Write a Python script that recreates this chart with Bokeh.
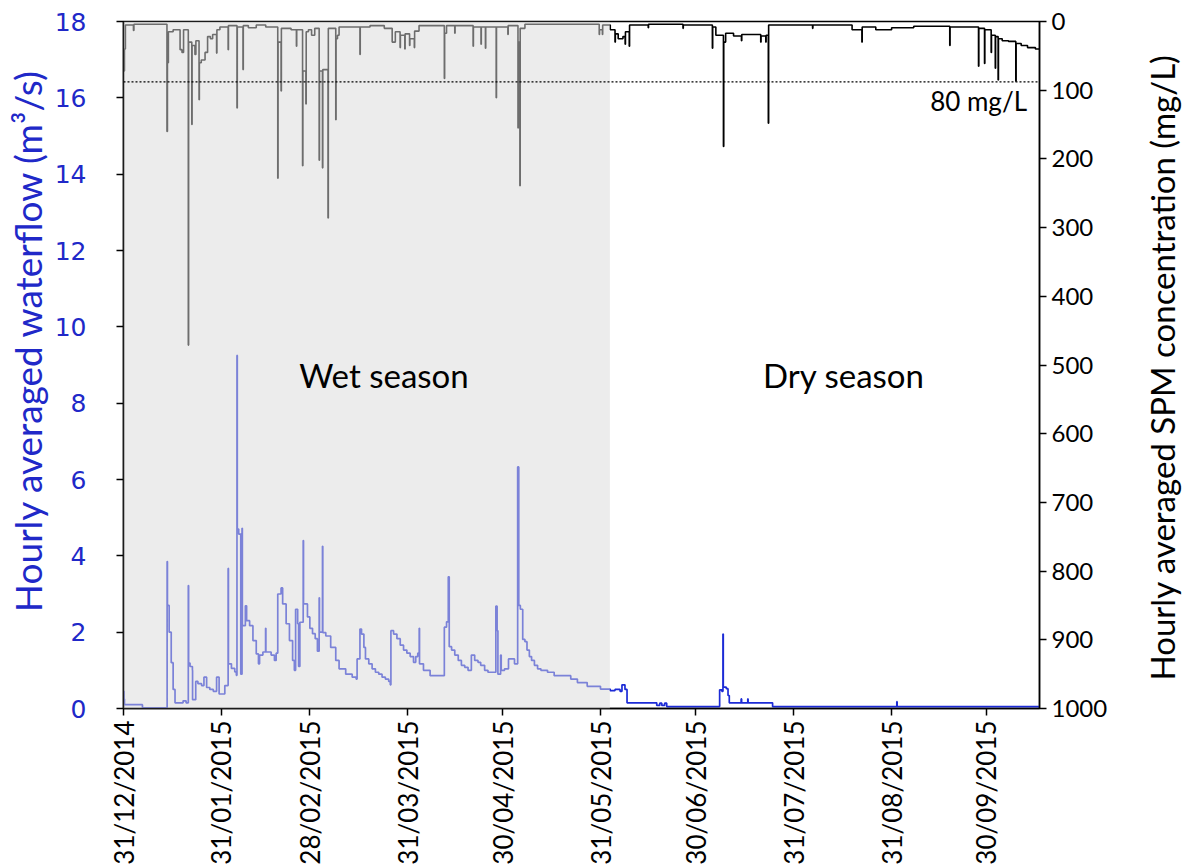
import math
import pandas as pd
from bokeh.plotting import figure
from bokeh.layouts import row
from bokeh.models import (Range1d, LinearAxis, FixedTicker, DatetimeTickFormatter,
                          BoxAnnotation, Span, Label)
from bokeh.embed import file_html
from bokeh.resources import INLINE

# ---------------- data ----------------
start_date = "2014-12-31"
end_date = "2015-10-16 19:00"
wet_end = "2015-06-02 21:00"

# hourly averaged waterflow (m3/s), days since 31/12/2014
flow_day = [0.0, 0.15, 0.3, 6.0, 13.8, 13.9, 14.45, 15.1, 15.7, 16.3, 18.85, 19.8,
            20.5, 20.6, 21.05, 21.8, 21.85, 22.85, 23.55, 24.7, 25.45, 26.3, 27.3, 28.4,
            29.45, 30.25, 31.5, 32.05, 33.1, 33.2, 34.15, 35.2, 35.7, 35.9, 36.0, 36.45,
            37.1, 37.5, 37.6, 38.55, 38.95, 39.9, 40.95, 42.0, 42.7, 43.05, 44.1, 44.95,
            45.05, 46.7, 47.75, 48.3, 48.8, 49.85, 50.35, 51.45, 52.5, 53.5, 54.05, 54.45,
            55.1, 55.4, 55.8, 56.85, 56.95, 57.5, 58.2, 58.95, 59.8, 60.65, 61.35, 61.9,
            62.0, 62.95, 63.05, 64.0, 65.55, 67.15, 68.2, 70.3, 72.35, 73.6, 73.9, 74.8,
            75.3, 76.05, 76.55, 77.6, 78.65, 79.7, 80.75, 81.8, 82.85, 83.9, 84.4, 84.6,
            85.45, 86.5, 87.55, 88.6, 89.65, 90.7, 91.75, 92.45, 93.1, 93.55, 93.65, 94.9,
            97.0, 101.5, 102.2, 102.75, 103.05, 103.8, 104.8, 105.9, 106.9, 107.95, 109.0,
            110.05, 111.1, 112.15, 113.0, 114.25, 115.3, 117.8, 118.2, 118.45, 119.3, 119.5,
            120.55, 121.8, 123.15, 123.7, 124.7, 125.05, 125.55, 126.3, 127.0, 127.65,
            128.4, 129.1, 130.0, 131.0, 132.05, 134.15, 136.25, 141.5, 143.6, 146.7, 150.9,
            153.95, 155.5, 157.1, 157.7, 158.65, 159.3, 168.7, 169.65, 170.3, 171.2, 171.85,
            188.6, 189.3, 189.65, 189.75, 190.7, 191.25, 191.65, 195.4, 195.55, 197.5,
            197.6, 205.35, 244.65, 244.75, 289.8]
flow_value = [0.45, 0.25, 0.1, 0.02, 3.85, 2.7, 2.0, 1.2, 0.5, 0.15, 0.2, 0.15,
              3.22, 1.19, 1.1, 1.0, 0.23, 0.71, 0.65, 0.6, 0.82, 0.55, 0.5, 0.45,
              0.82, 0.38, 0.38, 0.6, 3.67, 1.17, 1.05, 0.96, 0.87, 9.25, 4.7, 4.57,
              0.9, 4.72, 2.17, 2.69, 2.3, 2.17, 1.78, 1.43, 1.17, 1.4, 1.48, 2.1,
              1.48, 1.4, 1.26, 1.45, 3.0, 3.16, 2.74, 2.22, 1.78, 1.26, 1.0, 2.6,
              2.22, 1.1, 2.26, 4.4, 2.74, 2.74, 2.4, 2.1, 1.96, 1.83, 1.5, 2.9,
              2.0, 4.25, 1.99, 1.9, 1.6, 1.26, 1.04, 0.9, 0.82, 0.77, 1.3, 2.08,
              1.95, 1.6, 1.3, 1.17, 1.04, 0.95, 0.9, 0.82, 0.77, 0.71, 0.62, 2.04,
              1.95, 1.83, 1.66, 1.53, 1.45, 1.36, 1.21, 1.36, 1.45, 2.1, 1.17, 1.0,
              0.86, 2.13, 2.27, 3.45, 1.62, 1.53, 1.4, 1.26, 1.13, 1.08, 1.0,
              1.4, 1.26, 1.21, 1.13, 1.0, 0.95, 2.68, 2.04, 0.9, 1.4, 1.0,
              1.04, 1.3, 1.3, 1.17, 6.33, 2.7, 2.6, 1.81, 1.75, 1.53,
              1.36, 1.26, 1.13, 1.04, 1.0, 0.95, 0.86, 0.77, 0.68, 0.58, 0.51,
              0.47, 0.5, 0.45, 0.62, 0.5, 0.15, 0.08, 0.14, 0.08, 0.14, 0.05,
              0.49, 0.45, 1.95, 0.56, 0.52, 0.34, 0.15, 0.25, 0.15, 0.25,
              0.15, 0.05, 0.18, 0.05, 0.05]

# hourly averaged SPM concentration (mg/L), days since 31/12/2014
spm_day = [0.0, 0.3, 0.6, 3.15, 3.3, 13.75, 13.9, 14.2, 15.7, 17.9, 18.5, 19.0,
           20.5, 20.6, 21.6, 21.7, 22.6, 22.9, 23.9, 24.0, 24.6, 25.8, 26.6, 27.5,
           28.2, 29.45, 29.55, 30.5, 33.1, 33.2, 35.9, 36.0, 37.8, 37.9, 39.5, 42.0,
           45.0, 48.8, 48.9, 49.85, 49.95, 53.0, 54.7, 54.8, 56.65, 56.75, 57.7, 57.8,
           58.5, 59.5, 60.5, 61.9, 62.0, 62.95, 63.05, 64.7, 64.8, 67.15, 67.25, 67.7,
           68.2, 74.8, 74.9, 78.0, 82.5, 85.0, 86.0, 87.5, 87.6, 89.0, 89.1, 90.5,
           90.6, 92.0, 92.1, 93.5, 101.5, 101.6, 102.2, 104.8, 104.9, 110.6, 110.7,
           113.1, 113.2, 114.5, 114.6, 117.9, 118.0, 121.6, 121.7, 124.8, 124.9, 125.4,
           125.5, 127.0, 150.5, 150.6, 151.5, 151.6, 154.0, 155.5, 155.6, 156.5, 158.0,
           158.7, 158.8, 160.0, 160.1, 166.0, 166.1, 177.0, 177.1, 186.3, 186.4, 187.4,
           189.8, 189.9, 190.5, 193.0, 195.5, 195.6, 201.6, 201.7, 203.2, 203.3, 204.0,
           204.1, 218.0, 218.1, 230.5, 233.6, 233.7, 238.0, 243.0, 250.0, 261.4, 261.5,
           270.5, 270.6, 272.4, 272.5, 274.5, 274.6, 275.8, 275.9, 276.7, 276.8, 278.0,
           280.0, 282.3, 282.4, 284.0, 286.0, 288.5, 289.8]
spm_value = [72, 40, 5, 13, 4, 160, 60, 15, 12, 41, 45, 12,
             471, 30, 150, 35, 48, 28, 114, 60, 56, 45, 22, 25,
             19, 46, 12, 8, 41, 6, 126, 8, 70, 6, 9, 5,
             8, 228, 30, 101, 10, 12, 36, 12, 210, 72, 120, 15,
             12, 20, 10, 202, 72, 213, 70, 286, 10, 143, 25, 20,
             8, 48, 8, 6, 10, 30, 15, 38, 20, 40, 18, 35,
             25, 38, 14, 6, 83, 17, 6, 17, 6, 36, 8,
             33, 8, 39, 8, 111, 8, 19, 6, 155, 30, 239,
             10, 4, 19, 12, 19, 5, 12, 30, 18, 25, 22,
             33, 15, 36, 5, 9, 4, 10, 5, 39, 8, 20,
             182, 30, 17, 21, 28, 19, 30, 21, 30, 20, 148,
             5, 10, 5, 12, 30, 8, 12, 9, 7, 35, 8,
             65, 10, 61, 12, 45, 20, 68, 22, 85, 25, 28,
             29, 87, 32, 35, 38, 40, 40]

threshold_mgL = 88
tick_dates = ["2014-12-31", "2015-01-31", "2015-02-28", "2015-03-31", "2015-04-30",
              "2015-05-31", "2015-06-30", "2015-07-31", "2015-08-31", "2015-09-30"]
flow_ticks = [0, 2, 4, 6, 8, 10, 12, 14, 16, 18]
spm_ticks = [0, 100, 200, 300, 400, 500, 600, 700, 800, 900, 1000]

flow_title = "Hourly averaged waterflow (m³/s)"
spm_title = "Hourly averaged SPM concentration (mg/L)"

# ---------------- helpers ----------------
t0 = pd.Timestamp(start_date)
def to_dt(days):
    return [t0 + pd.Timedelta(days=float(d)) for d in days]
def ms(ts):
    return pd.Timestamp(ts).value / 1e6

CAL = "Lato"
BLUE = "#2028c8"
H = 868

def title_strip(w, text, cx, cy, size, color):
    """narrow figure holding one upward-reading axis title"""
    f = figure(width=w, height=H, x_range=Range1d(0, w), y_range=Range1d(0, H),
               output_backend="svg", toolbar_location=None,
               x_axis_location=None, y_axis_location=None,
               min_border=0, min_border_left=0, min_border_right=0,
               min_border_top=0, min_border_bottom=0)
    f.outline_line_color = None
    f.xgrid.visible = False
    f.ygrid.visible = False
    f.background_fill_color = "white"
    f.border_fill_color = "white"
    f.add_layout(Label(x=cx, y=H - cy, angle=math.pi / 2, text=text, text_font=CAL,
                       text_font_size=size, text_color=color,
                       text_align="center", text_baseline="middle"))
    return f

# ---------------- main figure ----------------
p = figure(width=1060, height=H, x_axis_type="datetime",
           x_range=Range1d(ms(start_date), ms(end_date)),
           y_range=Range1d(0, 18),
           output_backend="svg", toolbar_location=None,
           min_border_left=73, min_border_right=65,
           min_border_top=21, min_border_bottom=160)
p.extra_y_ranges = {"spm": Range1d(1000, 0)}
p.background_fill_color = "white"
p.border_fill_color = "white"
p.outline_line_color = "black"
p.outline_line_width = 1.5
p.xgrid.visible = False
p.ygrid.visible = False

p.step(to_dt(flow_day), flow_value, mode="after", line_color="#1c2bd6", line_width=1.7)
p.step(to_dt(spm_day), spm_value, mode="after", y_range_name="spm",
       line_color="black", line_width=1.6)

# x axis
xa = p.xaxis[0]
xa.ticker = FixedTicker(ticks=[ms(d) for d in tick_dates])
fmt = "%d/%m/%Y"
xa.formatter = DatetimeTickFormatter(microseconds=fmt, milliseconds=fmt, seconds=fmt,
                                     minsec=fmt, minutes=fmt, hourmin=fmt, hours=fmt,
                                     days=fmt, months=fmt, years=fmt)
xa.major_label_orientation = math.pi / 2
xa.major_label_text_font = CAL
xa.major_label_text_font_size = "26px"
xa.major_label_text_color = "black"
xa.major_label_standoff = 5
xa.major_tick_out = 7
xa.major_tick_in = 0
xa.minor_tick_line_color = None
xa.axis_line_color = "black"
xa.axis_line_width = 1.5
xa.major_tick_line_width = 1.5

# left axis
ya = p.yaxis[0]
ya.ticker = FixedTicker(ticks=flow_ticks)
ya.major_label_text_font = "DejaVu Sans"
ya.major_label_text_font_size = "25px"
ya.major_label_text_color = BLUE
ya.major_label_standoff = 30
ya.major_tick_out = 7
ya.major_tick_in = 0
ya.minor_tick_line_color = None
ya.axis_line_width = 1.5
ya.major_tick_line_width = 1.5

# right axis
ra = LinearAxis(y_range_name="spm", ticker=FixedTicker(ticks=spm_ticks))
ra.major_label_text_font = CAL
ra.major_label_text_font_size = "24px"
ra.major_label_text_color = "black"
ra.major_label_standoff = 5
ra.major_tick_out = 7
ra.major_tick_in = 0
ra.minor_tick_line_color = None
ra.axis_line_width = 1.5
ra.major_tick_line_width = 1.5
p.add_layout(ra, "right")

# wet season shading (drawn over the lines, which makes them look lighter)
p.add_layout(BoxAnnotation(left=ms(start_date), right=ms(wet_end),
                           fill_color="#d9d9d9", fill_alpha=0.5, line_color=None))

p.add_layout(Span(location=threshold_mgL, dimension="width", y_range_name="spm",
                  line_color="black", line_width=1.3, line_dash="2 2"))

p.add_layout(Label(x=ms("2015-10-12 20:00"), y=92, y_range_name="spm", text="80 mg/L",
                   text_font=CAL, text_font_size="26px", text_align="right",
                   text_baseline="top", text_color="black"))
p.add_layout(Label(x=ms("2015-03-23 10:00"), y=8.75, text="Wet season",
                   text_font=CAL, text_font_size="33px", text_align="center",
                   text_baseline="alphabetic", text_color="black"))
p.add_layout(Label(x=ms("2015-08-15 22:00"), y=8.75, text="Dry season",
                   text_font=CAL, text_font_size="33px", text_align="center",
                   text_baseline="alphabetic", text_color="black"))

left_strip = title_strip(50, flow_title, 27, 403, "37px", BLUE)
right_strip = title_strip(74, spm_title, 51, 437, "33px", "black")

layout = row(left_strip, p, right_strip, spacing=0)
open("out.html", "w").write(file_html(layout, INLINE))
